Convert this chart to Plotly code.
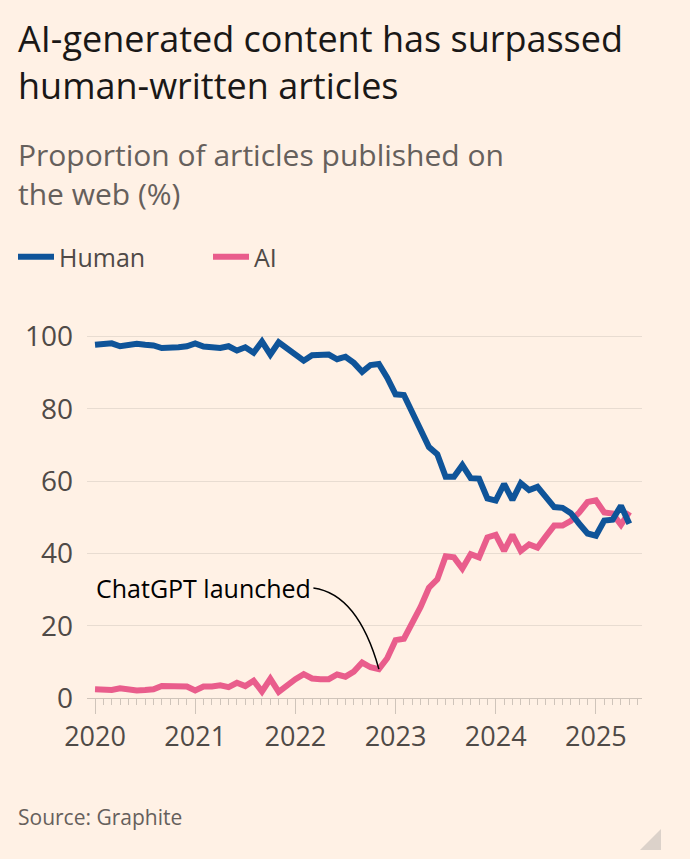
import pandas as pd
import plotly.graph_objects as go

# monthly share of articles published on the web, Jan 2020 - May 2025
months = pd.date_range("2020-01-01", periods=65, freq="MS")

human = [97.7, 97.7, 98.1, 97.3, 97.8, 98.0, 97.7, 97.5, 96.8, 96.8, 97.0, 97.3,
         98.1, 97.2, 97.2, 96.8, 97.3, 96.1, 97.0, 95.5, 98.6, 95.0, 98.4, 96.8,
         95.0, 93.3, 94.8, 95.0, 95.0, 93.7, 94.4, 92.7, 90.2, 92.1, 92.4, 88.6,
         84.0, 83.8, 79.0, 74.0, 69.4, 67.4, 61.2, 61.2, 64.4, 60.8, 60.7, 55.2,
         54.6, 59.2, 54.8, 59.4, 57.5, 58.4, 55.7, 52.8, 52.6, 51.1, 48.2, 45.5,
         44.9, 49.1, 49.3, 53.2, 48.2]

ai = [2.4, 2.4, 2.2, 2.7, 2.2, 2.1, 2.2, 2.4, 3.3, 3.3, 3.3, 3.2,
      2.1, 3.2, 3.2, 3.5, 3.0, 4.2, 3.3, 4.8, 1.8, 5.3, 1.7, 3.6,
      5.2, 6.6, 5.4, 5.2, 5.2, 6.5, 5.9, 7.3, 9.8, 8.5, 8.0, 11.0,
      16.0, 16.4, 20.5, 25.2, 30.5, 32.8, 39.2, 38.9, 35.8, 39.8, 38.9, 44.4,
      45.1, 40.7, 45.1, 40.7, 42.5, 41.6, 44.7, 47.7, 47.7, 49.0, 51.3, 54.2,
      54.7, 51.3, 51.0, 47.9, 51.5]

years = [2020, 2021, 2022, 2023, 2024, 2025]
y_ticks = [0, 20, 40, 60, 80, 100]
launch_idx = 34  # Nov 2022

x = [d.year + (d.month - 1) / 12 for d in months]

BG = "#FFF1E5"
BLUE = "#0F5499"
PINK = "#E95D8C"
GREY = "#66605C"
DARK = "#4F4A47"
FONT = "Open Sans"

# plot area in pixels
L, R, T, B = 87, 642, 322, 698
W, H = R - L, B - T


def px_x(p):
    return (p - L) / W


def px_y(p):
    return (B - p) / H


fig = go.Figure()
fig.add_trace(go.Scatter(x=x, y=ai, name="AI", mode="lines",
                         line=dict(color=PINK, width=6), legendrank=2))
fig.add_trace(go.Scatter(x=x, y=human, name="Human", mode="lines",
                         line=dict(color=BLUE, width=6), legendrank=1))

texts = [
    ("AI-generated content has surpassed<br>human-written articles", 62, 36, "#1A1817"),
    ("Proportion of articles published on<br>the web (%)", 174, 30, GREY),
    ("Source: Graphite", 817, 21, GREY),
]
annotations = []
for txt, yc, size, col in texts:
    annotations.append(dict(text=txt, xref="paper", yref="paper", x=px_x(16), y=px_y(yc),
                            xanchor="left", yanchor="middle", align="left", showarrow=False,
                            font=dict(family=FONT, size=size, color=col)))

# ChatGPT launch callout
x0, y0 = 2022.18, 30.4
annotations.append(dict(text="ChatGPT launched", x=x0, y=y0, xanchor="right", yanchor="middle",
                        showarrow=False, font=dict(family=FONT, size=25, color="#000000")))

shapes = [
    dict(type="path", xref="x", yref="y",
         path=f"M {x0},{y0} Q 2022.625,28.7 {x[launch_idx]},{ai[launch_idx]}",
         line=dict(color="#000000", width=1.5)),
    dict(type="path", xref="paper", yref="paper",
         path=f"M {px_x(640)},{px_y(850)} L {px_x(661)},{px_y(850)} L {px_x(661)},{px_y(829)} Z",
         fillcolor="#DCD2CA", line=dict(width=0)),
]

fig.update_layout(
    width=690, height=859,
    paper_bgcolor=BG, plot_bgcolor=BG,
    margin=dict(l=L, r=690 - R, t=T, b=859 - B),
    font=dict(family=FONT, color=DARK),
    showlegend=True,
    legend=dict(orientation="h", xref="container", yref="container",
                x=13 / 690, y=1 - 257 / 859, xanchor="left", yanchor="middle",
                font=dict(size=25, color=DARK), itemwidth=36,
                entrywidth=144, bgcolor="rgba(0,0,0,0)"),
    annotations=annotations,
    shapes=shapes,
)

fig.update_xaxes(range=[2019.92, 2025.46], tickmode="array", tickvals=years,
                 ticktext=[str(yv) for yv in years], showgrid=False, zeroline=False,
                 showline=True, linecolor="#CFC4BA", linewidth=1,
                 ticks="outside", ticklen=15, tickcolor="#CFC4BA", tickwidth=1,
                 tickfont=dict(size=27, color=DARK),
                 minor=dict(tickmode="linear", tick0=2020, dtick=1 / 12, ticks="outside",
                            ticklen=6, tickcolor="#CFC4BA", tickwidth=1, showgrid=False))
fig.update_yaxes(range=[0, 104], tickmode="array", tickvals=y_ticks, showgrid=True,
                 gridcolor="#E8DCD1", gridwidth=1, zeroline=False, showline=False,
                 ticks="", ticklabelstandoff=13, tickfont=dict(size=28, color=DARK))

# drop the browser's default page margin so the chart sits flush in the window
fig.write_html("out.html", config={"displayModeBar": False},
               post_script="document.body.style.margin='0px';")
